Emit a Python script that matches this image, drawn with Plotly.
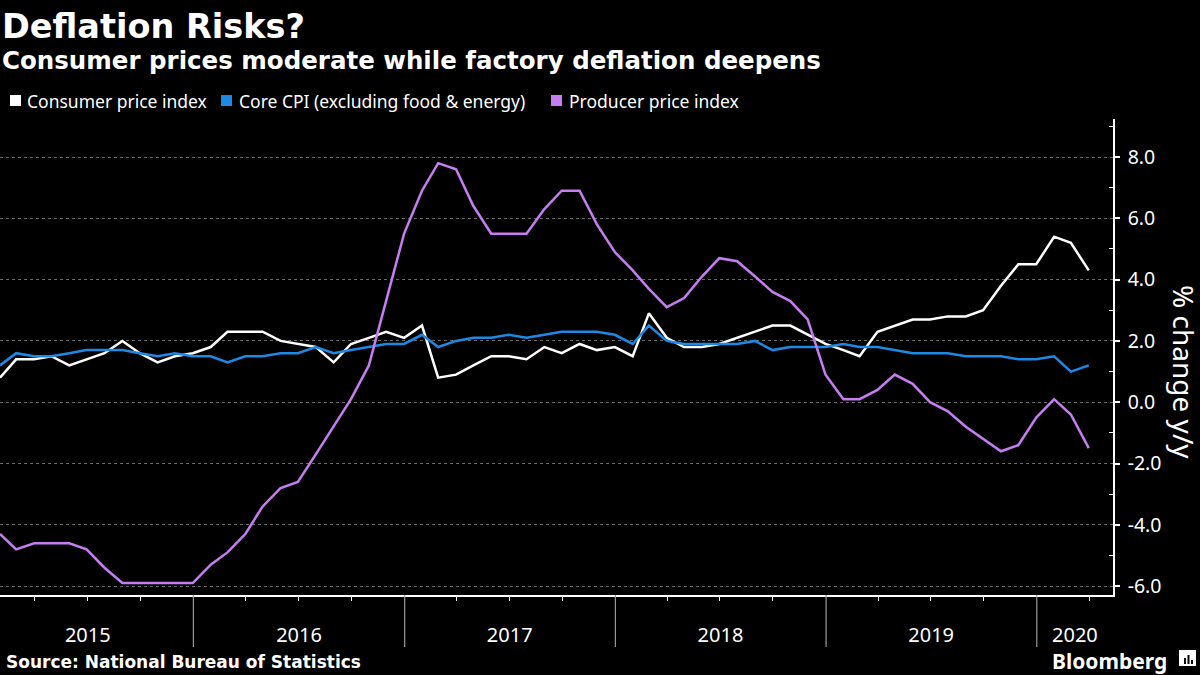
import plotly.graph_objects as go
import pandas as pd

# ---------------- data ----------------
months = pd.date_range("2015-01-31", "2020-03-31", freq="ME")

cpi = [0.8, 1.4, 1.4, 1.5, 1.2, 1.4, 1.6, 2.0, 1.6, 1.3, 1.5, 1.6,
       1.8, 2.3, 2.3, 2.3, 2.0, 1.9, 1.8, 1.3, 1.9, 2.1, 2.3, 2.1,
       2.5, 0.8, 0.9, 1.2, 1.5, 1.5, 1.4, 1.8, 1.6, 1.9, 1.7, 1.8,
       1.5, 2.9, 2.1, 1.8, 1.8, 1.9, 2.1, 2.3, 2.5, 2.5, 2.2, 1.9,
       1.7, 1.5, 2.3, 2.5, 2.7, 2.7, 2.8, 2.8, 3.0, 3.8, 4.5, 4.5,
       5.4, 5.2, 4.3]

core_cpi = [1.2, 1.6, 1.5, 1.5, 1.6, 1.7, 1.7, 1.7, 1.6, 1.5, 1.6, 1.5,
            1.5, 1.3, 1.5, 1.5, 1.6, 1.6, 1.8, 1.6, 1.7, 1.8, 1.9, 1.9,
            2.2, 1.8, 2.0, 2.1, 2.1, 2.2, 2.1, 2.2, 2.3, 2.3, 2.3, 2.2,
            1.9, 2.5, 2.0, 1.9, 1.9, 1.9, 1.9, 2.0, 1.7, 1.8, 1.8, 1.8,
            1.9, 1.8, 1.8, 1.7, 1.6, 1.6, 1.6, 1.5, 1.5, 1.5, 1.4, 1.4,
            1.5, 1.0, 1.2]

ppi = [-4.3, -4.8, -4.6, -4.6, -4.6, -4.8, -5.4, -5.9, -5.9, -5.9, -5.9, -5.9,
       -5.3, -4.9, -4.3, -3.4, -2.8, -2.6, -1.7, -0.8, 0.1, 1.2, 3.3, 5.5,
       6.9, 7.8, 7.6, 6.4, 5.5, 5.5, 5.5, 6.3, 6.9, 6.9, 5.8, 4.9,
       4.3, 3.7, 3.1, 3.4, 4.1, 4.7, 4.6, 4.1, 3.6, 3.3, 2.7, 0.9,
       0.1, 0.1, 0.4, 0.9, 0.6, 0.0, -0.3, -0.8, -1.2, -1.6, -1.4, -0.5,
       0.1, -0.4, -1.5]

series_names = ["Consumer price index", "Core CPI (excluding food & energy)",
                "Producer price index"]
series_colors = ["#ffffff", "#1e88e5", "#c77df2"]

year_labels = ["2015", "2016", "2017", "2018", "2019", "2020"]
year_label_pos = ["2015-07-02", "2016-07-02", "2017-07-02", "2018-07-02",
                  "2019-07-02", "2020-03-07"]
year_starts = ["2016-01-01", "2017-01-01", "2018-01-01", "2019-01-01", "2020-01-01"]
quarter_ticks = [f"{y}-{m}-01" for y in range(2015, 2021) for m in ("04", "07", "10")]
quarter_ticks = [q for q in quarter_ticks if q < "2020-05-01"]

y_ticks = [-6, -4, -2, 0, 2, 4, 6, 8]
y_minor = [-5, -3, -1, 1, 3, 5, 7, 9]

X_RANGE = ["2015-01-31", "2020-05-12"]
Y_RANGE = [-6.29, 9.24]

# ---------------- layout geometry ----------------
W, H = 1200, 675
ML, MR, MT, MB = 0, 87, 119, 80
PW = W - ML - MR
PH = H - MT - MB


def px(xp):
    return (xp - ML) / PW


def py(yp):
    return (H - MB - yp) / PH


fig = go.Figure()
for vals, name, col in zip([cpi, core_cpi, ppi], series_names, series_colors):
    fig.add_trace(go.Scatter(x=months, y=vals, mode="lines", name=name,
                             line=dict(color=col, width=2.5), showlegend=False))

shapes = []
annotations = []

# year separators
for d in year_starts:
    shapes.append(dict(type="line", xref="x", yref="paper", x0=d, x1=d,
                       y0=0, y1=py(647), line=dict(color="#9a9a9a", width=1.2)))

# legend (manual squares + text)
leg_sq_x = [10, 221, 551]
leg_tx_x = [25, 237, 567]
for sx, tx, name, col in zip(leg_sq_x, leg_tx_x, series_names, series_colors):
    shapes.append(dict(type="rect", xref="paper", yref="paper",
                       x0=px(sx), x1=px(sx + 11), y0=py(106), y1=py(95),
                       fillcolor=col, line=dict(width=0)))
    annotations.append(dict(text=name, xref="paper", yref="paper", x=px(tx), y=py(101),
                            xanchor="left", yanchor="middle", showarrow=False,
                            font=dict(family="Noto Sans", size=17.5, color="#ffffff")))

# titles
annotations.append(dict(text="<b>Deflation Risks?</b>", xref="paper", yref="paper",
                        x=px(0), y=py(26), xanchor="left", yanchor="middle",
                        showarrow=False,
                        font=dict(family="DejaVu Sans", size=33.5, color="#ffffff")))
annotations.append(dict(text="<b>Consumer prices moderate while factory deflation deepens</b>",
                        xref="paper", yref="paper", x=px(0), y=py(60), xanchor="left",
                        yanchor="middle", showarrow=False,
                        font=dict(family="DejaVu Sans", size=24.5, color="#ffffff")))
annotations.append(dict(text="<b>Source: National Bureau of Statistics</b>",
                        xref="paper", yref="paper", x=px(4), y=py(662), xanchor="left",
                        yanchor="middle", showarrow=False,
                        font=dict(family="DejaVu Sans", size=17, color="#ffffff")))
annotations.append(dict(text="<b>Bloomberg</b>", xref="paper", yref="paper",
                        x=px(1169), y=py(661), xanchor="right", yanchor="middle",
                        showarrow=False,
                        font=dict(family="Noto Sans", size=21, color="#ffffff")))
# small logo box
shapes.append(dict(type="rect", xref="paper", yref="paper", x0=px(1179), x1=px(1196),
                   y0=py(666), y1=py(650), fillcolor="#ffffff", line=dict(width=0)))
for bx, btop in [(1184, 658), (1187.5, 655), (1191, 660)]:
    shapes.append(dict(type="rect", xref="paper", yref="paper", x0=px(bx), x1=px(bx + 2),
                       y0=py(664), y1=py(btop), fillcolor="#000000", line=dict(width=0)))

# axis title (rotated, reading top-to-bottom)
annotations.append(dict(text="% change y/y", xref="paper", yref="paper",
                        x=px(1184), y=py(372), xanchor="center", yanchor="middle",
                        textangle=90, showarrow=False,
                        font=dict(family="Noto Sans", size=28, color="#ffffff")))

fig.update_layout(
    width=W, height=H,
    margin=dict(l=ML, r=MR, t=MT, b=MB),
    paper_bgcolor="#000000", plot_bgcolor="#000000",
    showlegend=False,
    shapes=shapes, annotations=annotations,
    xaxis=dict(
        type="date", range=X_RANGE,
        tickmode="array", tickvals=year_label_pos, ticktext=year_labels,
        ticks="", ticklabelstandoff=21,
        tickfont=dict(family="Noto Sans", size=20, color="#ffffff"),
        showgrid=False, zeroline=False,
        showline=True, linecolor="#ffffff", linewidth=1.5,
        minor=dict(tickmode="array", tickvals=quarter_ticks, ticks="outside",
                   ticklen=4, tickcolor="#ffffff", tickwidth=1, showgrid=False),
    ),
    yaxis=dict(
        side="right", range=Y_RANGE,
        tickmode="array", tickvals=y_ticks, ticktext=[f"{v:.1f}" for v in y_ticks],
        ticks="outside", ticklen=5, tickwidth=2, tickcolor="#ffffff",
        ticklabelstandoff=4,
        tickfont=dict(family="Noto Sans", size=19.5, color="#ffffff"),
        showgrid=True, gridcolor="#6a6a6a", gridwidth=1, griddash="dot",
        zeroline=False,
        showline=True, linecolor="#ffffff", linewidth=1.5,
        minor=dict(tickmode="array", tickvals=y_minor, ticks="inside",
                   ticklen=4, tickcolor="#ffffff", tickwidth=1, showgrid=False),
    ),
)

fig.write_html("out.html",
               config={"displayModeBar": False},
               post_script="document.body.style.margin='0px';"
                           "document.body.style.background='#000';")
